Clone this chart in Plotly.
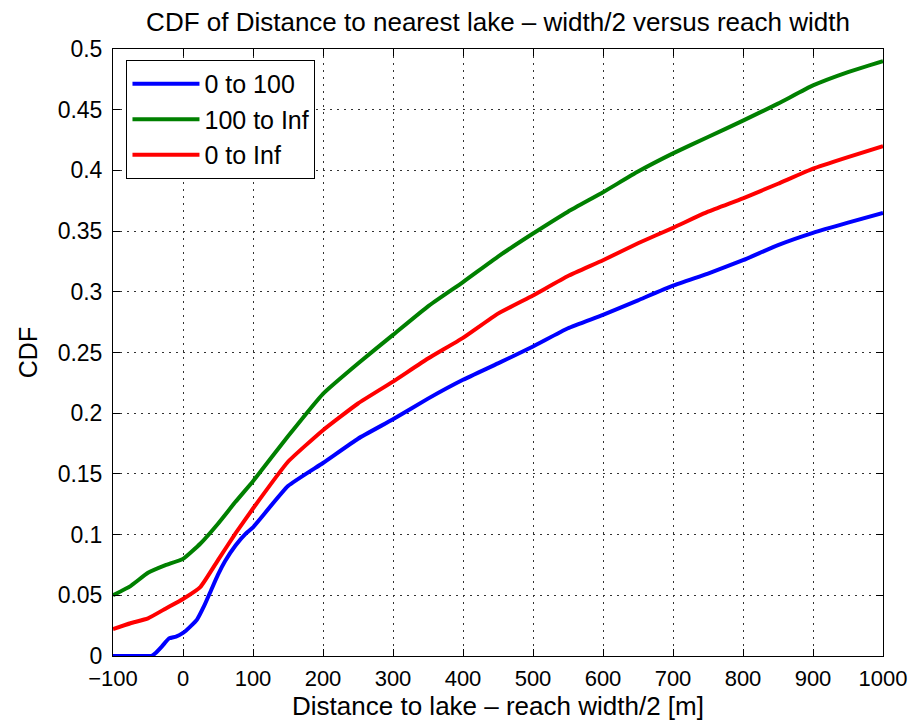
import plotly.graph_objects as go

# Data
x_blue = [-100, -75, -50, -45, -40, -30, -20, -10, 0, 10, 20, 30, 40, 50, 60, 75, 90, 100,
          150, 200, 250, 300, 350, 400, 450, 500, 550, 600, 650, 700, 750, 800, 850, 900, 950, 1000]
y_blue = [0, 0, 0, 0, 0.002, 0.008, 0.0145, 0.016, 0.019, 0.024, 0.030, 0.041, 0.054, 0.067, 0.078,
          0.091, 0.101, 0.106, 0.140, 0.159, 0.179, 0.195, 0.212, 0.2275, 0.241, 0.255, 0.270, 0.281,
          0.293, 0.305, 0.315, 0.326, 0.3385, 0.3486, 0.357, 0.365]

x_common = [-100, -75, -50, -25, 0, 25, 50, 75, 100, 150, 200, 250, 300, 350, 400, 450, 500,
            550, 600, 650, 700, 750, 800, 850, 900, 950, 1000]
y_green = [0.050, 0.0576, 0.0685, 0.0748, 0.080, 0.0927, 0.109, 0.127, 0.144, 0.181, 0.216, 0.241,
           0.2645, 0.288, 0.308, 0.329, 0.348, 0.366, 0.382, 0.399, 0.414, 0.4275, 0.441, 0.455,
           0.470, 0.481, 0.490]
y_red = [0.0222, 0.027, 0.031, 0.039, 0.047, 0.057, 0.079, 0.101, 0.1215, 0.160, 0.186, 0.208,
         0.226, 0.245, 0.262, 0.282, 0.297, 0.313, 0.326, 0.340, 0.3527, 0.366, 0.377, 0.389,
         0.4015, 0.411, 0.420]

series_names = ["0 to 100", "100 to Inf", "0 to Inf"]
x_ticks = [-100, 0, 100, 200, 300, 400, 500, 600, 700, 800, 900, 1000]
y_ticks = [0, 0.05, 0.1, 0.15, 0.2, 0.25, 0.3, 0.35, 0.4, 0.45, 0.5]

FONT = "Liberation Sans, Arial, Helvetica, sans-serif"

fig = go.Figure()
for xs, ys, nm, col in [(x_blue, y_blue, series_names[0], "#0000FF"),
                        (x_common, y_green, series_names[1], "#008000"),
                        (x_common, y_red, series_names[2], "#FF0000")]:
    fig.add_trace(go.Scatter(x=xs, y=ys, mode="lines", name=nm,
                             line=dict(color=col, width=4, shape="spline", smoothing=0.4)))

axis_common = dict(
    showline=True, linecolor="black", linewidth=1, mirror="ticks",
    ticks="inside", ticklen=7, tickcolor="black", tickwidth=1,
    showgrid=True, gridcolor="#333333", gridwidth=1, griddash="2px,5px",
    zeroline=False, automargin=False,
    tickfont=dict(family=FONT, size=23, color="black"),
)

fig.update_xaxes(range=[-100, 1000], tickvals=x_ticks,
                 ticktext=["\u2212100"] + [str(v) for v in x_ticks[1:]],
                 ticklabelstandoff=3, tickfont=dict(family=FONT, size=22, color="black"),
                 title=dict(text="Distance to lake \u2013 reach width/2 [m]",
                            font=dict(family=FONT, size=26, color="black"), standoff=6),
                 **{k: v for k, v in axis_common.items() if k != "tickfont"})
fig.update_yaxes(range=[0, 0.5], tickvals=y_ticks,
                 ticktext=[("%g" % v) for v in y_ticks],
                 ticklabelstandoff=5,
                 title=dict(text="CDF", font=dict(family=FONT, size=25, color="black"), standoff=12),
                 **axis_common)

fig.update_layout(
    width=914, height=713,
    margin=dict(l=105, r=39, t=41, b=65, autoexpand=False),
    paper_bgcolor="white", plot_bgcolor="white",
    title=dict(text="CDF of Distance to nearest lake \u2013 width/2 versus reach width",
               font=dict(family=FONT, size=26, color="black"),
               x=0.5, xanchor="center", xref="paper", y=0.993, yanchor="top", yref="container"),
    font=dict(family=FONT, color="black"),
    showlegend=True,
    legend=dict(x=0.0175, y=0.982, xanchor="left", yanchor="top",
                bgcolor="white", bordercolor="black", borderwidth=1,
                font=dict(family=FONT, size=25, color="black"),
                itemwidth=67, tracegroupgap=0),
)

fig.write_html("out.html")
